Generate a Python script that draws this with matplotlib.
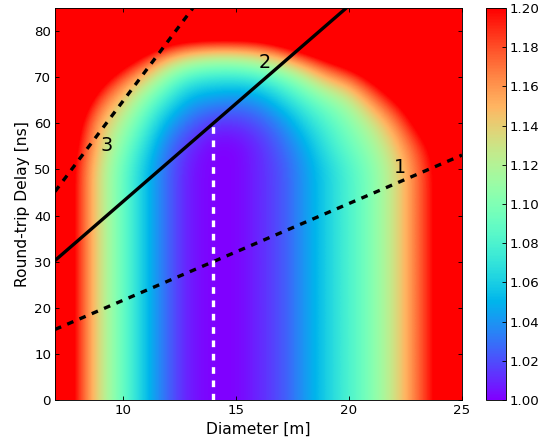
import numpy as np
import matplotlib
matplotlib.use("Agg")
import matplotlib.pyplot as plt

# ratio field: columns are diameters 7..25 m,
# rows are delays 0, 5, ..., 85 ns (the field does not change below 50 ns)
diameter = np.arange(7, 26)
delay = np.arange(0, 86, 5)

row_low = [1.26, 1.19, 1.13, 1.09, 1.055, 1.025, 1.005, 1.0, 1.0, 1.01,
           1.02, 1.04, 1.06, 1.08, 1.10, 1.13, 1.17, 1.21, 1.26]
row_55 = [1.27, 1.20, 1.14, 1.10, 1.065, 1.03, 1.01, 1.0, 1.0, 1.01,
          1.025, 1.045, 1.07, 1.09, 1.11, 1.14, 1.18, 1.22, 1.27]
row_60 = [1.29, 1.21, 1.15, 1.115, 1.08, 1.045, 1.025, 1.012, 1.012, 1.02,
          1.035, 1.06, 1.08, 1.10, 1.125, 1.16, 1.21, 1.25, 1.29]
row_65 = [1.32, 1.24, 1.175, 1.14, 1.10, 1.07, 1.045, 1.04, 1.035, 1.04,
          1.06, 1.08, 1.10, 1.12, 1.16, 1.20, 1.24, 1.28, 1.31]
row_70 = [1.36, 1.29, 1.22, 1.175, 1.14, 1.10, 1.075, 1.07, 1.07, 1.075,
          1.09, 1.115, 1.15, 1.17, 1.21, 1.25, 1.28, 1.31, 1.34]
row_75 = [1.40, 1.35, 1.29, 1.24, 1.20, 1.16, 1.14, 1.13, 1.13, 1.14,
          1.16, 1.19, 1.22, 1.25, 1.28, 1.30, 1.33, 1.36, 1.38]
row_80 = [1.45, 1.40, 1.36, 1.32, 1.29, 1.26, 1.25, 1.25, 1.25, 1.25,
          1.27, 1.30, 1.33, 1.36, 1.38, 1.40, 1.42, 1.44, 1.46]
row_85 = [1.50, 1.46, 1.42, 1.38, 1.35, 1.32, 1.31, 1.30, 1.30, 1.31,
          1.33, 1.36, 1.39, 1.41, 1.43, 1.45, 1.47, 1.49, 1.51]

# lines (diameter, delay) end points
line1_x, line1_y = [7, 25], [15.3, 53.1]
line2_x, line2_y = [7, 20], [30.25, 85.5]
line3_x, line3_y = [7, 13.1], [45.2, 85]
cut_x, cut_y = [14, 14], [0, 60]

labels = ["1", "2", "3"]
label_x = [22.26, 16.29, 9.3]
label_y = [50.5, 73.1, 55.1]

cbar_ticks = [1.00, 1.02, 1.04, 1.06, 1.08, 1.10, 1.12, 1.14, 1.16, 1.18, 1.20]

Z = np.array([row_low] * 11 + [row_55, row_60, row_65, row_70, row_75, row_80, row_85])

plt.rcParams['font.family'] = 'DejaVu Sans'
plt.rcParams['font.size'] = 12

fig = plt.figure(figsize=(547 / 80, 440 / 80), dpi=80)
ax = fig.add_axes([55 / 547, 40 / 440, 407 / 547, 392 / 440])
cax = fig.add_axes([486 / 547, 40 / 440, 20 / 547, 392 / 440])

dx = (diameter[1] - diameter[0]) / 2
dy = (delay[1] - delay[0]) / 2
im = ax.imshow(Z, cmap='rainbow', vmin=1.0, vmax=1.2, origin='lower',
               interpolation='bicubic', aspect='auto',
               extent=[diameter[0] - dx, diameter[-1] + dx, delay[0] - dy, delay[-1] + dy])

dash = (0, (2, 2))
ax.plot(line1_x, line1_y, color='k', lw=3, linestyle=dash)
ax.plot(line2_x, line2_y, color='k', lw=3)
ax.plot(line3_x, line3_y, color='k', lw=3, linestyle=dash)
ax.plot(cut_x, cut_y, color='w', lw=3, linestyle=dash)

for t, x, y in zip(labels, label_x, label_y):
    ax.text(x, y, t, fontsize=17.28, ha='center', va='center')

ax.set_xlim(7, 25)
ax.set_ylim(0, 85)
ax.set_xticks([10, 15, 20, 25])
ax.set_yticks(np.arange(0, 81, 10))
ax.tick_params(direction='in', top=True, right=True, length=4, labelsize=12)
ax.set_xlabel('Diameter [m]', fontsize=14)
ax.set_ylabel('Round-trip Delay [ns]', fontsize=14)

cb = fig.colorbar(im, cax=cax, ticks=cbar_ticks)
cb.ax.set_yticklabels(['%.2f' % t for t in cbar_ticks])
cb.ax.tick_params(direction='in', length=4, labelsize=12)

fig.savefig('out.png', dpi=80)
